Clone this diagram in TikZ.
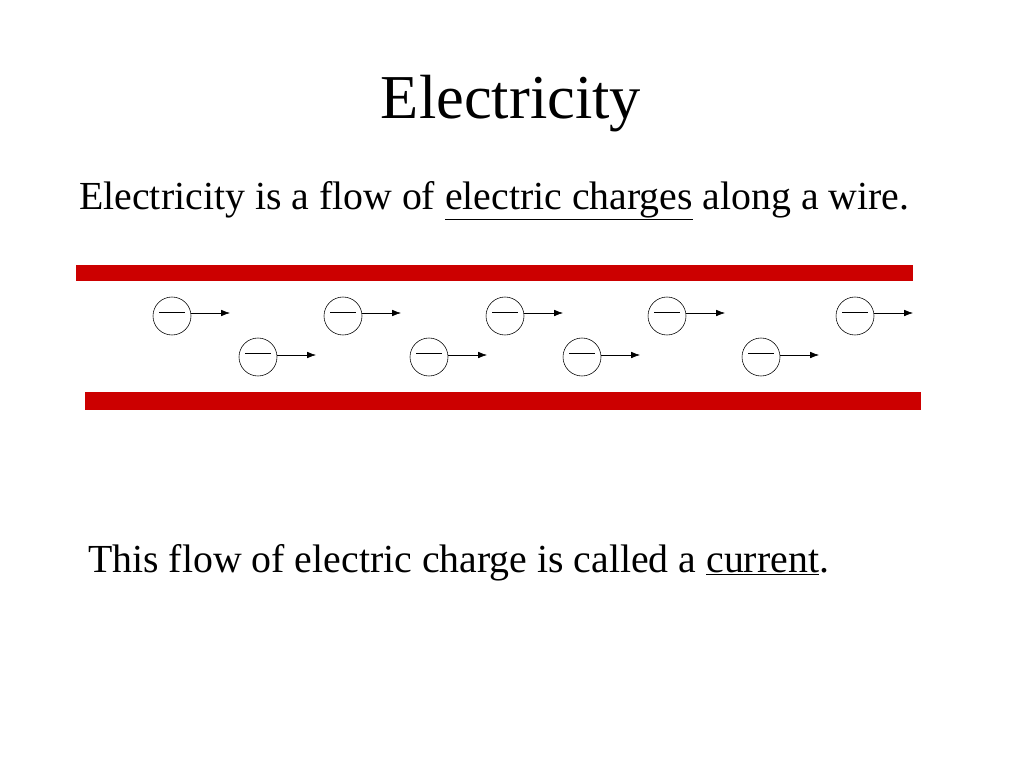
\documentclass[tikz,border=0pt]{standalone}
\usepackage{fontspec}
\setmainfont{Liberation Serif}
\usetikzlibrary{positioning,arrows.meta}
\definecolor{wirered}{HTML}{CC0000}
\tikzset{
  wire/.style={fill=wirered, draw=none},
  charge/.style={circle, draw, thin, minimum size=38*0.025cm, inner sep=0pt},
  flow/.style={-{Latex[length=2.2mm,width=1.6mm]}, thin},
  bodytext/.style={anchor=base west, inner sep=0pt, font=\fontsize{28.3}{34}\selectfont}
}
\begin{document}
\begin{tikzpicture}[x=0.025cm, y=-0.025cm]
  \useasboundingbox (0,0) rectangle (1024,768);
  \node (title) at (511,104) {\fontsize{44.4}{52}\selectfont Electricity};
  \node[bodytext] (intro) at (79,209) {Electricity is a flow of \underline{electric charges} along a wire.};
  % wire walls
  \fill[wire] (76,265) rectangle (913,281);
  \fill[wire] (85,392) rectangle (921,410);
  % moving charges
  \foreach \x [count=\i] in {172,343,505,667,855} {
    \node[charge] (top\i) at (\x,316) {};
    \draw (\x-13,312) -- (\x+13,312);
    \coordinate (toptip\i) at (\x+58,313);
    \draw[flow] (top\i.east |- toptip\i) -- (toptip\i);
  }
  \foreach \x [count=\i] in {258,429,582,761} {
    \node[charge] (bot\i) at (\x,357) {};
    \draw (\x-13,353) -- (\x+13,353);
    \coordinate (bottip\i) at (\x+58,355);
    \draw[flow] (bot\i.east |- bottip\i) -- (bottip\i);
  }
  \node[bodytext] (current) at (88,572) {This flow of electric charge is called a \underline{current}.};
\end{tikzpicture}
\end{document}
